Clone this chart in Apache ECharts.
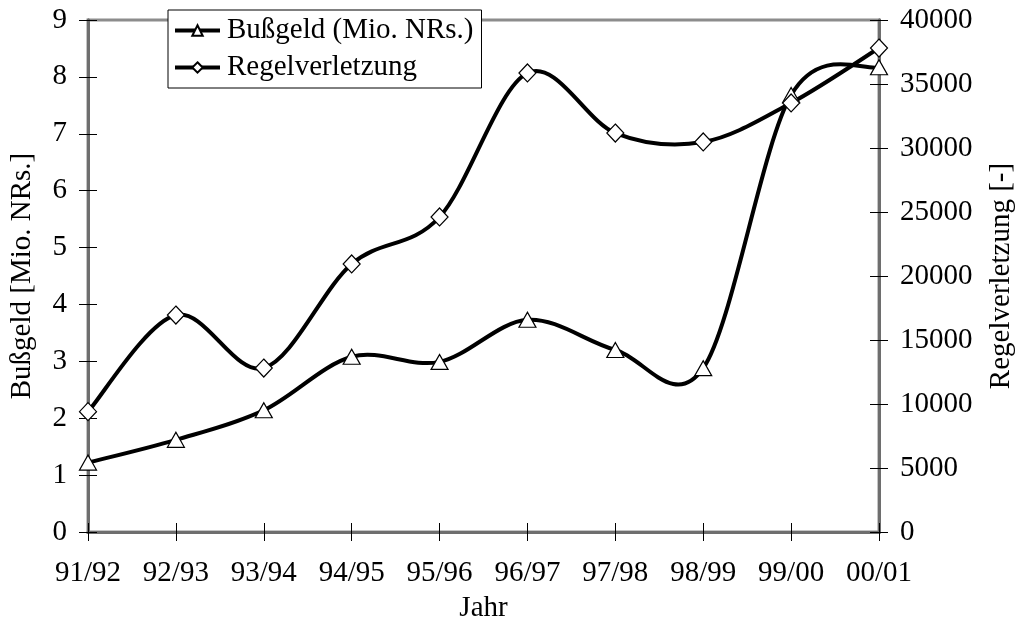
<!DOCTYPE html>
<html>
<head>
<meta charset="utf-8">
<script src="https://cdn.jsdelivr.net/npm/echarts@6/dist/echarts.min.js"></script>
<style>
  html, body { margin: 0; padding: 0; background: #fff; }
  #chart { width: 1020px; height: 623px; }
</style>
</head>
<body>
<div id="chart"></div>
<script>
// Jahre (Geschäftsjahre)
var jahre = ['91/92', '92/93', '93/94', '94/95', '95/96', '96/97', '97/98', '98/99', '99/00', '00/01'];
// Bußgeld in Mio. NRs. (linke Achse)
var bussgeld = [1.22, 1.62, 2.14, 3.08, 2.99, 3.73, 3.2, 2.88, 7.68, 8.17];
// Anzahl Regelverletzungen (rechte Achse)
var regelverletzung = [9400, 16950, 12810, 20940, 24610, 35860, 31170, 30470, 33520, 37810];

var FONT = '"Liberation Serif", "Times New Roman", serif';
var AXIS_GRAY = '#6e6e6e';
var FRAME_GRAY = '#8c8c8c';
var txt = { color: '#000', fontFamily: FONT, fontSize: 29 };

function yAxis(pos, max, interval, inside, name, showLabel) {
  return {
    type: 'value', position: pos, min: 0, max: max, interval: interval,
    name: name || '', nameLocation: 'middle', nameRotate: 90,
    nameGap: pos === 'left' ? 51 : 108,
    nameTextStyle: txt,
    axisLine: { show: true, lineStyle: { color: AXIS_GRAY, width: 3 } },
    axisTick: { show: true, inside: inside, length: 9, lineStyle: { color: '#000', width: 1 } },
    axisLabel: showLabel ? Object.assign({ margin: 21, formatter: function (v) { return String(v); } }, txt) : { show: false },
    splitLine: { show: false }
  };
}

function xAxis(inside, showLabel) {
  return {
    type: 'category', position: 'bottom', data: jahre, boundaryGap: false,
    name: showLabel ? 'Jahr' : '', nameLocation: 'middle', nameGap: 62,
    nameTextStyle: txt,
    axisLine: { show: true, lineStyle: { color: AXIS_GRAY, width: 3 } },
    axisTick: { show: true, inside: inside, length: 9, alignWithLabel: true, lineStyle: { color: '#000', width: 1 } },
    axisLabel: showLabel ? Object.assign({ margin: 27, interval: 0 }, txt) : { show: false },
    splitLine: { show: false }
  };
}

// Geglättete Kurve (Bezier-Segmente im Stil einer Catmull-Rom-Glättung)
function curveSeries(values, yAxisIndex) {
  return {
    type: 'custom', xAxisIndex: 0, yAxisIndex: yAxisIndex, z: 2,
    silent: true,
    data: values.map(function (v, i) { return [i, v]; }),
    renderItem: function (params, api) {
      if (params.dataIndex !== 0) return null;
      var p = values.map(function (v, i) { return api.coord([i, v]); });
      var n = p.length;
      var d = 'M' + p[0][0] + ' ' + p[0][1];
      for (var i = 0; i < n - 1; i++) {
        var p0 = p[Math.max(i - 1, 0)], p1 = p[i], p2 = p[i + 1], p3 = p[Math.min(i + 2, n - 1)];
        var c1x = p1[0] + (p2[0] - p0[0]) / 6, c1y = p1[1] + (p2[1] - p0[1]) / 6;
        var c2x = p2[0] - (p3[0] - p1[0]) / 6, c2y = p2[1] - (p3[1] - p1[1]) / 6;
        d += ' C' + c1x + ' ' + c1y + ' ' + c2x + ' ' + c2y + ' ' + p2[0] + ' ' + p2[1];
      }
      return {
        type: 'path',
        shape: { pathData: d },
        style: { fill: null, stroke: '#000', lineWidth: 4, lineJoin: 'round', lineCap: 'round' }
      };
    }
  };
}

var chart = echarts.init(document.getElementById('chart'), null, { renderer: 'canvas' });
chart.setOption({
  animation: false,
  backgroundColor: '#fff',
  grid: {
    left: 88, right: 141, top: 20, bottom: 91,
    containLabel: false, outerBoundsMode: 'none',
    show: true, borderColor: FRAME_GRAY, borderWidth: 3, backgroundColor: 'transparent'
  },
  legend: {
    orient: 'vertical', left: 168, top: 10,
    padding: [6, 8, 6, 5], itemGap: 8,
    itemWidth: 45, itemHeight: 13,
    backgroundColor: '#fff', borderColor: '#000', borderWidth: 1,
    lineStyle: { color: '#000', width: 4, opacity: 1 },
    textStyle: { color: '#000', fontFamily: FONT, fontSize: 29, padding: [0, 0, 0, 2] },
    data: ['Bußgeld (Mio. NRs.)', 'Regelverletzung'],
    z: 10
  },
  xAxis: [xAxis(false, true), xAxis(true, false)],
  yAxis: [
    yAxis('left', 9, 1, false, 'Bußgeld [Mio. NRs.]', true),
    yAxis('right', 40000, 5000, false, 'Regelverletzung [-]', true),
    yAxis('left', 9, 1, true, '', false),
    yAxis('right', 40000, 5000, true, '', false)
  ],
  series: [
    curveSeries(bussgeld, 0),
    curveSeries(regelverletzung, 1),
    {
      name: 'Bußgeld (Mio. NRs.)', type: 'line', data: bussgeld,
      xAxisIndex: 0, yAxisIndex: 0,
      symbol: 'triangle', symbolSize: [17, 15],
      lineStyle: { color: '#000', width: 4, opacity: 0 },
      itemStyle: { color: '#fff', borderColor: '#000', borderWidth: 1.2 },
      z: 3
    },
    {
      name: 'Regelverletzung', type: 'line', data: regelverletzung,
      xAxisIndex: 0, yAxisIndex: 1,
      symbol: 'diamond', symbolSize: [17, 18],
      lineStyle: { color: '#000', width: 4, opacity: 0 },
      itemStyle: { color: '#fff', borderColor: '#000', borderWidth: 1.2 },
      z: 3
    }
  ]
});
</script>
</body>
</html>
